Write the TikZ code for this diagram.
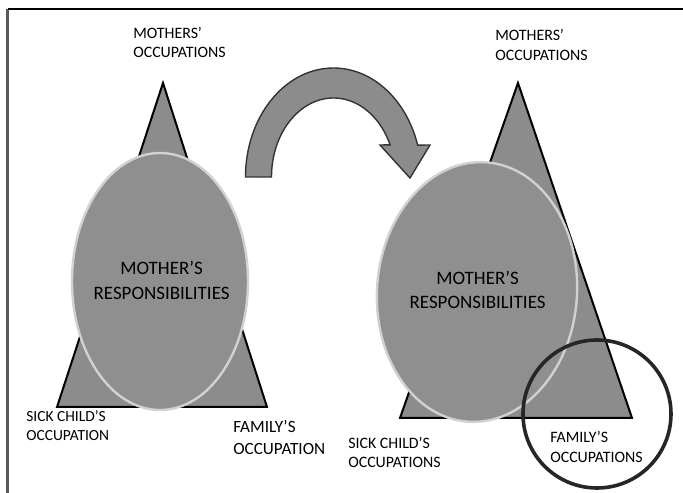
\documentclass[tikz,border=0pt]{standalone}
\usepackage{fontspec}
\setmainfont{Carlito}
\usepackage{tikz}
\tikzset{
	tri/.style={line width=0.5mm, draw=black, fill=black!45, line join=miter},
	resp/.style={line width=0.6mm, draw=black!18, fill=black!44},
	lbl/.style={anchor=west, align=left, inner sep=0pt, font=\fontsize{11.3}{14}\selectfont},
	bigtxt/.style={align=center, inner sep=0pt, font=\fontsize{13.5}{17.5}\selectfont},
}

\begin{document}
\begin{tikzpicture}
			%%%%% START %%%%%
			\useasboundingbox (0, 0) rectangle (17.075, 12.325);
			
			\draw[line width=0.6mm, color=black!65] (0.19, 12.1) -- (0.19, 0);
			\draw[line width=0.4mm] (0.19, 12.1) -- (17.075, 12.1);
			
			% before
			\draw[tri] (4.075, 10.25) -- (1.425, 2.15) -- (6.675, 2.15) -- cycle;
			\draw[resp] (4.0, 5.2875) ellipse (2.2 and 3.2125);
			\node[bigtxt] (respLeft) at (4.04, 5.31) {MOTHER’S\\RESPONSIBILITIES};
			
			% arrow
			\draw[line width=0.35mm, draw=black!80, fill=black!45, line join=miter]
				(6.1375, 7.9) arc (180:17:2.2 and 2.725) -- (10.75, 8.7) -- (10.25, 7.875)
				-- (9.5, 8.7) -- (9.753, 8.703) arc (24:180:1.55 and 1.975) -- cycle;
			
			% after
			\draw[tri] (12.95, 10.25) -- (10.0, 1.875) -- (15.8, 1.875) -- cycle;
			\draw[resp, rotate around={-4:(11.925, 5.025)}] (11.925, 5.025) ellipse (2.5 and 3.25);
			\node[bigtxt] (respRight) at (11.94, 5.075) {MOTHER’S\\RESPONSIBILITIES};
			\draw[line width=0.9mm, color=black!85] (14.925, 1.975) circle (1.85);
			
			% labels
			\node[lbl] (occTopLeft) at (3.325, 11.26) {MOTHERS’\\OCCUPATIONS};
			\node[lbl] (occTopRight) at (12.375, 11.2) {MOTHERS’\\OCCUPATIONS};
			\node[lbl, font=\fontsize{11}{13.5}\selectfont] (sickLeft) at (0.65, 1.675) {SICK CHILD’S\\OCCUPATION};
			\node[lbl, font=\fontsize{12.2}{15}\selectfont] (familyLeft) at (5.825, 1.3875) {FAMILY’S\\OCCUPATION};
			\node[lbl] (sickRight) at (8.7, 1.0125) {SICK CHILD’S\\OCCUPATIONS};
			\node[lbl] (familyRight) at (13.75, 1.15) {FAMILY’S\\OCCUPATIONS};
			%%%%% END %%%%%
\end{tikzpicture}
\end{document}
